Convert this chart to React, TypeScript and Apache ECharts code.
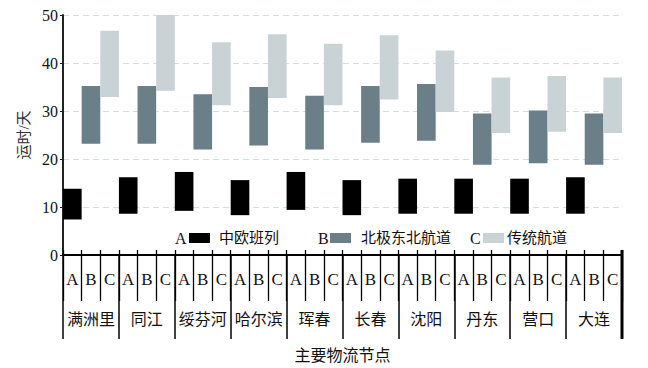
import React, { useEffect, useRef } from "react";
import * as echarts from "echarts";

const nodes = ["满洲里", "同江", "绥芬河", "哈尔滨", "珲春", "长春", "沈阳", "丹东", "营口", "大连"];
const routeLetters = ["A", "B", "C"];
const routeNames = ["中欧班列", "北极东北航道", "传统航道"];
const routeColors = ["#000000", "#6a7f87", "#c9d3d5"];

// A: 中欧班列
const railLow = [7.4, 8.6, 9.2, 8.3, 9.4, 8.3, 8.6, 8.6, 8.6, 8.6];
const railHigh = [13.8, 16.2, 17.3, 15.6, 17.3, 15.6, 15.9, 15.9, 15.9, 16.2];
// B: 北极东北航道
const arcticLow = [23.2, 23.2, 22.0, 22.8, 22.0, 23.4, 23.8, 18.8, 19.1, 18.8];
const arcticHigh = [35.2, 35.2, 33.5, 35.0, 33.2, 35.2, 35.6, 29.5, 30.1, 29.5];
// C: 传统航道
const seaLow = [32.9, 34.2, 31.2, 32.7, 31.2, 32.4, 29.8, 25.4, 25.7, 25.4];
const seaHigh = [46.7, 50.0, 44.3, 46.0, 44.0, 45.8, 42.6, 37.0, 37.3, 37.0];

const yTicks = [0, 10, 20, 30, 40, 50];

const FONT = '"Liberation Serif", "Noto Sans CJK SC", serif';

export default function App() {
  const ref = useRef<HTMLDivElement>(null);
  useEffect(() => {
    if (!ref.current) return;
    const chart = echarts.init(ref.current, undefined, { renderer: "svg" });
    const lows = [railLow, arcticLow, seaLow];
    const highs = [railHigh, arcticHigh, seaHigh];
    const subCats: string[] = [];
    const baseData: any[] = [];
    const rangeData: any[] = [];
    nodes.forEach((_, i) => {
      routeLetters.forEach((l, r) => {
        subCats.push(l);
        baseData.push(lows[r][i]);
        rangeData.push({
          value: +(highs[r][i] - lows[r][i]).toFixed(2),
          itemStyle: { color: routeColors[r] },
        });
      });
    });

    const legendGraphics: any[] = [];
    const legendX = [175, 318, 470];
    const rectX = [189, 330, 483];
    const textX = [219, 361, 507];
    routeLetters.forEach((l, r) => {
      legendGraphics.push({
        type: "text",
        x: legendX[r],
        y: 238,
        style: { text: l, font: `16px ${FONT}`, fill: "#111", verticalAlign: "middle" },
      });
      legendGraphics.push({
        type: "rect",
        shape: { x: rectX[r], y: 233, width: 21, height: 10 },
        style: { fill: routeColors[r] },
      });
      legendGraphics.push({
        type: "text",
        x: textX[r],
        y: 238,
        style: { text: routeNames[r], font: `15px ${FONT}`, fill: "#111", verticalAlign: "middle" },
      });
    });
    // heavier closing line at the right end of the category axis
    legendGraphics.push({
      type: "line",
      shape: { x1: 622, y1: 250, x2: 622, y2: 339 },
      style: { stroke: "#000", lineWidth: 3 },
    });

    chart.setOption({
      animation: false,
      grid: { left: 63, right: 26, top: 15, bottom: 113, containLabel: false },
      xAxis: [
        {
          type: "category",
          data: subCats,
          position: "bottom",
          axisLine: { show: true, lineStyle: { color: "#000", width: 2 } },
          axisTick: { show: true, interval: 0, length: 46, lineStyle: { color: "#000", width: 1.3 } },
          axisLabel: { interval: 0, margin: 16, fontSize: 17, color: "#111", fontFamily: FONT },
          name: "主要物流节点",
          nameLocation: "middle",
          nameGap: 92,
          nameTextStyle: { fontSize: 16, color: "#111", fontFamily: FONT },
        },
        {
          type: "category",
          data: nodes,
          position: "bottom",
          axisLine: { show: false },
          axisTick: { show: true, interval: 0, length: 84, lineStyle: { color: "#000", width: 1.5 } },
          axisLabel: { interval: 0, margin: 56, fontSize: 16, color: "#111", fontFamily: FONT },
        },
        {
          type: "category",
          data: subCats,
          position: "bottom",
          axisLine: { show: false },
          axisTick: { show: true, inside: true, interval: 0, length: 5, lineStyle: { color: "#000", width: 1.3 } },
          axisLabel: { show: false },
        },
      ],
      yAxis: {
        type: "value",
        min: yTicks[0],
        max: yTicks[yTicks.length - 1],
        interval: 10,
        name: "运时/天",
        nameLocation: "middle",
        nameGap: 30,
        nameTextStyle: { fontSize: 15, color: "#333", fontFamily: FONT },
        axisLine: { show: true, lineStyle: { color: "#222", width: 2 } },
        axisTick: { show: true, length: 3, lineStyle: { color: "#222" } },
        axisLabel: { fontSize: 16, color: "#111", fontFamily: FONT, margin: 5 },
        splitLine: { show: true, lineStyle: { color: "#d3dede", type: [6, 4], width: 1.2 } },
      },
      series: [
        {
          type: "bar",
          stack: "range",
          xAxisIndex: 0,
          data: baseData,
          itemStyle: { color: "rgba(0,0,0,0)" },
          barCategoryGap: "0%",
          silent: true,
        },
        {
          type: "bar",
          stack: "range",
          xAxisIndex: 0,
          data: rangeData,
          barCategoryGap: "0%",
        },
      ],
      graphic: legendGraphics,
    });
    return () => chart.dispose();
  }, []);
  return (
    <div
      ref={ref}
      style={{ position: "fixed", left: 0, top: 0, width: 648, height: 368, background: "#fff" }}
    />
  );
}
